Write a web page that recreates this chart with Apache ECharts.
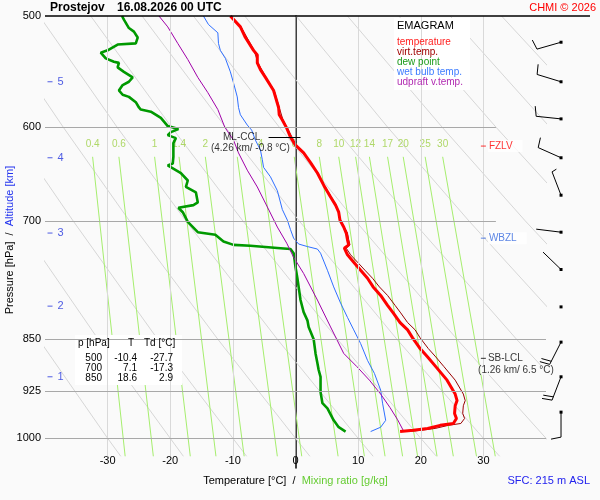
<!DOCTYPE html>
<html>
<head>
<meta charset="utf-8">
<script src="https://cdn.jsdelivr.net/npm/echarts@6/dist/echarts.min.js"></script>
<style>
  html, body { margin: 0; padding: 0; background: #fafafa; }
  #chart { width: 600px; height: 500px; }
</style>
</head>
<body>
<div id="chart"></div>
<script>
// sounding (pressure hPa / temperature degC)
const tempP = [500,509,518,529,533,540,546,553,565,581,588,593,601,610,618,626,636,647,660,673,682,690,699,707,714,722,728,732,734,740,749,759,769,780,791,804,814,827,837,848,863,875,889,909,930,940,948,960,968,976,979,984,987,989];
const tempT = [-10.4,-8.8,-8.0,-6.7,-6.1,-6.1,-5.6,-4.8,-3.5,-2.7,-2.6,-2.1,-1.4,-0.8,0.0,1.3,2.4,3.5,4.5,5.6,6.4,6.9,7.1,7.7,8.1,8.3,8.5,7.8,7.7,8.3,9.3,10.4,11.5,12.4,13.6,14.7,15.6,16.7,17.9,18.7,19.9,21.1,22.4,24.2,25.5,25.8,25.5,25.4,25.7,25.2,23.1,21.1,18.8,16.7];

const virtP = [500,509,529,540,553,565,581,593,601,618,636,660,682,699,714,722,728,732,740,749,759,769,780,791,804,814,827,837,848,863,875,889,909,930,940,948,960,968,976,979,984,987,989];
const virtT = [-10.3,-8.7,-6.6,-6.0,-4.7,-3.4,-2.6,-2.0,-1.3,0.1,2.5,4.6,6.5,7.2,8.3,8.5,8.7,8.1,8.8,9.9,11.1,12.3,13.4,14.7,15.9,16.8,17.9,19.1,19.9,21.2,22.4,23.7,25.5,26.8,27.1,26.8,26.7,27.0,26.4,24.4,22.3,20.0,17.9];

const dewP = [500,503,510,513,518,523,524,529,531,536,539,540,544,548,553,557,560,565,569,571,576,581,583,585,591,599,602,605,608,611,616,630,637,639,647,655,662,668,679,682,685,690,701,713,716,724,728,729,732,733,738,743,755,769,780,797,813,824,833,850,870,884,894,904,927,944,952,971,982,989];
const dewT = [-27.7,-27.4,-26.6,-25.8,-25.2,-25.5,-28.4,-30.0,-31.1,-30.3,-29.0,-28.2,-28.4,-27.4,-26.0,-26.6,-27.6,-28.2,-27.6,-26.6,-25.5,-25.0,-24.7,-23.1,-21.5,-20.4,-18.7,-19.9,-20.4,-19.1,-19.5,-19.5,-19.6,-20.4,-18.3,-17.2,-17.5,-15.9,-15.6,-16.3,-18.7,-18.0,-17.2,-15.6,-12.8,-11.5,-9.9,-7.2,-2.4,-0.8,-0.3,-0.2,0.0,0.3,0.5,0.8,1.3,1.9,2.1,2.9,3.2,3.5,3.7,4.0,4.0,4.3,5.1,6.1,6.9,8.0];

const wetP = [500,507,514,523,529,536,548,558,571,581,588,598,603,613,623,633,641,651,666,687,699,710,720,727,730,733,738,759,780,801,820,837,856,880,899,924,944,971,982,989];
const wetT = [-14.7,-13.9,-12.4,-12.3,-12.0,-11.2,-10.4,-9.9,-9.3,-9.1,-8.8,-7.7,-7.0,-6.4,-5.6,-5.3,-5.1,-4.0,-2.9,-2.1,-1.3,-0.8,-0.3,0.5,1.9,3.5,4.0,5.1,6.1,7.2,8.3,9.3,10.4,11.5,12.6,13.6,13.9,14.4,13.6,12.0];

const updP = [500,509,523,537,553,567,583,600,613,626,644,662,684,707,726,743,763,797,833,870,889,909,930,951,970,987];
const updT = [-21.8,-20.4,-18.8,-17.2,-15.6,-14.0,-12.4,-11.3,-9.9,-9.1,-7.7,-6.1,-4.5,-2.9,-1.4,-0.3,1.3,3.5,5.6,7.7,9.8,11.8,13.6,15.1,16.3,17.2];

// dry adiabats: temperature at each level, one row per line (theta 1000 hPa = -30 ... 100)
const adiabatLevels = [500, 600, 700, 850, 1000, 1030];
const dryAdiabats = [
  [-73.7,-63.0,-53.6,-41.0,-30,-27.9],
  [-65.5,-54.4,-44.5,-31.5,-20,-17.9],
  [-57.3,-45.8,-35.5,-22.0,-10,-7.8],
  [-49.1,-37.1,-26.5,-12.4,0,2.3],
  [-40.9,-28.5,-17.5,-2.9,10,12.4],
  [-32.7,-19.8,-8.4,6.7,20,22.5],
  [-24.5,-11.2,0.6,16.2,30,32.6],
  [-16.3,-2.6,9.6,25.8,40,42.7],
  [-8.1,6.1,18.7,35.3,50,52.7],
  [0.1,14.7,27.7,44.9,60,62.8],
  [8.3,23.4,36.7,54.4,70,72.9],
  [16.5,32.0,45.7,63.9,80,83.0],
  [24.7,40.6,54.8,73.5,90,93.1],
  [32.9,49.3,63.8,83.0,100,103.2]
];

// saturation mixing ratio lines (g/kg), temperature at 630 and 1030 hPa
const mixRatio = [0.4,0.6,1,1.4,2,3,4,6,8,10,12,14,17,20,25,30];
const mixLabels = ['0.4','0.6','1','1.4','2','','4','6','8','10','12','14','17','20','25','30'];
const mixTopT = [-32.4,-28.2,-22.5,-18.6,-14.4,-9.3,-5.6,-0.2,3.8,6.9,9.6,11.8,14.7,17.2,20.7,23.5];
const mixBottomT = [-27.2,-22.7,-16.8,-12.7,-8.2,-2.9,1.0,6.8,11.0,14.3,17.1,19.5,22.6,25.2,28.9,31.9];
const mixTopP = 630, mixBottomP = 1030;

// winds
const barbP = [522,557,592,631,671,713,758,806,854,904,958];
const barbDir = [254,287,276,294,339,277,314,0,207,201,180];
const barbSpeed = [10,10,10,10,5,3,3,0,20,20,10];

// altitude marks (km) and the pressure they sit at
const altKm = [1,2,3,4,5];
const altP = [904,805,714,631,557];

const pressureTicks = [500,600,700,850,925,1000];
const tempGrid = [-30,-20,-10,0,10,20,30];

const tableP = [500,700,850];
const tableT = [-10.4,7.1,18.6];
const tableTd = [-27.7,-17.3,2.9];

const sfcP = 989;
const fzlvP = 619, wbzlP = 720, lclP = 877, cclP = 610;

const FONT = 'Arial, "Liberation Sans", sans-serif';
const BARB_X = 42.4;   // just right of the plot, in temperature units
const MARK_X = 30;     // where the level dashes sit

const zip = (ps, ts) => ps.map((p, i) => [ts[i], p]);

const chart = echarts.init(document.getElementById('chart'));

const series = [];

// background grid
const gridLines = [];
tempGrid.forEach(t => {
  gridLines.push([{ coord: [t, 500], lineStyle: { color: t === 0 ? '#999' : '#d9d9d9', width: 1, type: 'solid' } }, { coord: [t, 1030] }]);
});
pressureTicks.forEach(p => {
  if (p === 500) return;
  const right = (p === 600 || p === 700) ? 32 : 40;
  gridLines.push([{ coord: [-40, p], lineStyle: { color: '#a8a8a8', width: 1.2, type: 'solid' } }, { coord: [right, p] }]);
});
// ML-CCL mark
gridLines.push([{ coord: [-4.3, cclP], lineStyle: { color: '#000', width: 1, type: 'solid' } }, { coord: [0.8, cclP] }]);

series.push({
  type: 'line', data: [], silent: true, z: 1,
  markLine: { symbol: ['none', 'none'], silent: true, label: { show: false }, animation: false,
    lineStyle: { type: 'solid' }, emphasis: { disabled: true }, data: gridLines }
});

dryAdiabats.forEach(row => {
  series.push({
    type: 'line', data: zip(adiabatLevels, row), showSymbol: false, silent: true, z: 1,
    lineStyle: { color: '#d6d6d6', width: 1 }
  });
});

mixRatio.forEach((w, i) => {
  series.push({
    type: 'line', data: [[mixTopT[i], mixTopP], [mixBottomT[i], mixBottomP]],
    showSymbol: false, silent: true, z: 2,
    lineStyle: { color: '#a6ee6e', width: 1 }
  });
});

series.push({
  type: 'scatter', symbolSize: 0, silent: true, z: 2,
  data: mixRatio.map((w, i) => [mixTopT[i], mixTopP, mixLabels[i]]),
  label: {
    show: true, position: 'top', distance: 8, color: '#9ccf44', fontSize: 10, fontFamily: FONT,
    formatter: p => p.value[2]
  }
});

// profiles
const prof = (name, ps, ts, color, width, z) => ({
  name, type: 'line', data: zip(ps, ts), showSymbol: false, z,
  lineStyle: { color, width }, itemStyle: { color }
});
series.push(prof('dew point', dewP, dewT, '#009900', 2.6, 3));
series.push(prof('wet bulb temp.', wetP, wetT, '#2f6fff', 1, 3));
series.push(prof('udpraft v.temp.', updP, updT, '#a000a8', 1, 3));
series.push(prof('virt.temp.', virtP, virtT, '#990000', 1, 3));
series.push(prof('temperature', tempP, tempT, '#ff0000', 3, 4));

// level labels
const lbl = (text, color, extra) => Object.assign({
  show: true, formatter: text, color, fontSize: 10, fontFamily: FONT
}, extra || {});
series.push({
  type: 'scatter', silent: true, z: 6, symbol: 'rect',
  data: [
    { value: [MARK_X, fzlvP], symbolSize: [5, 1], itemStyle: { color: '#ff0000' },
      label: lbl('FZLV', '#ff0000', { position: 'right', distance: 2, backgroundColor: '#fff', padding: [1, 10, 1, 1] }) },
    { value: [MARK_X, wbzlP], symbolSize: [5, 1], itemStyle: { color: '#3366dd' },
      label: lbl('WBZL', '#3366dd', { position: 'right', distance: 2, backgroundColor: '#fff', padding: [1, 10, 1, 1] }) },
    { value: [MARK_X, lclP], symbolSize: [5, 1], itemStyle: { color: '#000' },
      label: lbl('SB-LCL', '#000', { position: 'right', distance: 2 }) },
    { value: [35.2, 894], symbolSize: 0,
      label: lbl('(1.26 km/ 6.5 °C)', '#000', { position: 'inside', backgroundColor: 'rgba(250,250,250,0.9)' }) },
    { value: [-8.6, cclP], symbolSize: 0, label: lbl('ML-CCL', '#000', { position: 'inside' }) },
    { value: [-7.2, 621], symbolSize: 0, label: lbl('(4.26 km/ -0.8 °C)', '#000', { position: 'inside' }) }
  ]
});

// altitude marks
series.push({
  type: 'scatter', silent: true, z: 6, symbol: 'rect', symbolSize: [5, 1],
  itemStyle: { color: '#2233dd' },
  data: altKm.map((k, i) => [-39.2, altP[i], k]),
  label: { show: true, position: 'right', distance: 5, color: '#2233dd', fontSize: 11, fontFamily: FONT, formatter: p => p.value[2] }
});

// wind barbs
series.push({
  type: 'custom', silent: true, z: 6, clip: false,
  data: barbP.map((p, i) => [BARB_X, p, barbDir[i], barbSpeed[i]]),
  encode: { x: 0, y: 1 },
  renderItem: function (params, api) {
    const c = api.coord([api.value(0), api.value(1)]);
    const dir = api.value(2) * Math.PI / 180;
    const spd = api.value(3);
    const kids = [];
    if (spd > 0) {
      const ux = Math.sin(dir), uy = -Math.cos(dir);
      const ex = c[0] + ux * 25, ey = c[1] + uy * 25;
      const px = -uy, py = ux;
      kids.push({ type: 'line', shape: { x1: c[0], y1: c[1], x2: ex, y2: ey }, style: { stroke: '#000', lineWidth: 1 } });
      let rest = spd, k = 0;
      while (rest >= 10) {
        const bx = ex - ux * k * 3.5, by = ey - uy * k * 3.5;
        kids.push({ type: 'line', shape: { x1: bx, y1: by, x2: bx + px * 10 + ux * 2, y2: by + py * 10 + uy * 2 }, style: { stroke: '#000', lineWidth: 1 } });
        rest -= 10; k++;
      }
      if (rest >= 5) {
        const bx = ex - ux * k * 3.5, by = ey - uy * k * 3.5;
        kids.push({ type: 'line', shape: { x1: bx, y1: by, x2: bx + px * 5 + ux, y2: by + py * 5 + uy }, style: { stroke: '#000', lineWidth: 1 } });
      }
    }
    kids.push({ type: 'rect', shape: { x: c[0] - 1.5, y: c[1] - 1.5, width: 3, height: 3 }, style: { fill: '#000' } });
    return { type: 'group', children: kids };
  }
});
series.push({
  type: 'scatter', silent: true, z: 7, symbol: 'rect', symbolSize: 3,
  itemStyle: { color: '#0000cc' }, data: [[BARB_X, sfcP]]
});

// text blocks
const legendItems = [
  ['temperature', '#ff2020'],
  ['virt.temp.', '#a00000'],
  ['dew point', '#1a9a1a'],
  ['wet bulb temp.', '#3b7bff'],
  ['udpraft v.temp.', '#b12ab1']
];
const txt = (text, x, y, fill, font, align) => ({
  type: 'text', x, y, silent: true,
  style: { text, fill, font, align: align || 'left', verticalAlign: 'middle' }
});
const graphics = [
  { type: 'line', silent: true, shape: { x1: 45, y1: 16, x2: 590, y2: 16 }, style: { stroke: '#000', lineWidth: 1.5 }, z: 10 },
  txt('Prostejov', 50, 8, '#000', 'bold 12px ' + FONT),
  txt('16.08.2026 00 UTC', 117, 8, '#000', 'bold 12px ' + FONT),
  txt('CHMI © 2026', 596, 8, '#ff0000', '11px ' + FONT, 'right'),
  txt('SFC: 215 m ASL', 590, 481, '#2222ee', '11px ' + FONT, 'right'),
  {
    type: 'text', x: 10, y: 240, rotation: Math.PI / 2, silent: true,
    style: {
      text: '{a|Pressure [hPa]  /  }{b|Altitude [km]}', font: '11px ' + FONT,
      align: 'center', verticalAlign: 'middle',
      rich: { a: { fill: '#000', font: '11px ' + FONT }, b: { fill: '#2233ee', font: '11px ' + FONT } }
    }
  },
  { type: 'rect', silent: true, shape: { x: 394, y: 18, width: 76, height: 72 }, style: { fill: '#fff' }, z: 5 },
  Object.assign(txt('EMAGRAM', 397, 26, '#000', '11px ' + FONT), { z: 6 }),
  { type: 'rect', silent: true, shape: { x: 75, y: 335, width: 107, height: 50 }, style: { fill: '#fff' }, z: 5 },
  Object.assign(txt('p [hPa]', 78, 343, '#000', '10px ' + FONT), { z: 6 }),
  Object.assign(txt('T', 128, 343, '#000', '10px ' + FONT), { z: 6 }),
  Object.assign(txt('Td [°C]', 144, 343, '#000', '10px ' + FONT), { z: 6 })
];
legendItems.forEach((it, i) => {
  graphics.push(Object.assign(txt(it[0], 397, 42 + i * 10, it[1], '10px ' + FONT), { z: 6 }));
});
tableP.forEach((p, i) => {
  const y = 358 + i * 10;
  graphics.push(Object.assign(txt(String(p), 102, y, '#000', '10px ' + FONT, 'right'), { z: 6 }));
  graphics.push(Object.assign(txt(tableT[i].toFixed(1), 137, y, '#000', '10px ' + FONT, 'right'), { z: 6 }));
  graphics.push(Object.assign(txt(tableTd[i].toFixed(1), 173, y, '#000', '10px ' + FONT, 'right'), { z: 6 }));
});

chart.setOption({
  backgroundColor: '#fafafa',
  animation: false,
  textStyle: { fontFamily: FONT },
  grid: { left: 45, top: 16, right: 54, bottom: 32, containLabel: false, outerBoundsMode: 'none' },
  xAxis: {
    type: 'value', min: -40, max: 40, interval: 10, offset: -13,
    axisLine: { show: false }, axisTick: { show: false }, splitLine: { show: false },
    axisLabel: { margin: 0, fontSize: 11, color: '#000', fontFamily: FONT, showMinLabel: false, showMaxLabel: false },
    name: '{a|Temperature [°C]  /  }{b|Mixing ratio [g/kg]}',
    nameLocation: 'middle', nameGap: 20,
    nameTextStyle: { fontSize: 11, rich: { a: { color: '#000', fontSize: 11, fontFamily: FONT }, b: { color: '#66cc33', fontSize: 11, fontFamily: FONT } } }
  },
  yAxis: {
    type: 'log', logBase: 10, min: 500, max: 1050, inverse: true,
    axisLine: { show: true, lineStyle: { color: '#000', width: 1.5 } },
    axisTick: { show: false }, splitLine: { show: false }, minorSplitLine: { show: false },
    axisLabel: { customValues: pressureTicks, fontSize: 11, color: '#000', margin: 4, fontFamily: FONT,
      formatter: v => String(Math.round(v)) }
  },
  graphic: graphics,
  series: series
});
</script>
</body>
</html>
